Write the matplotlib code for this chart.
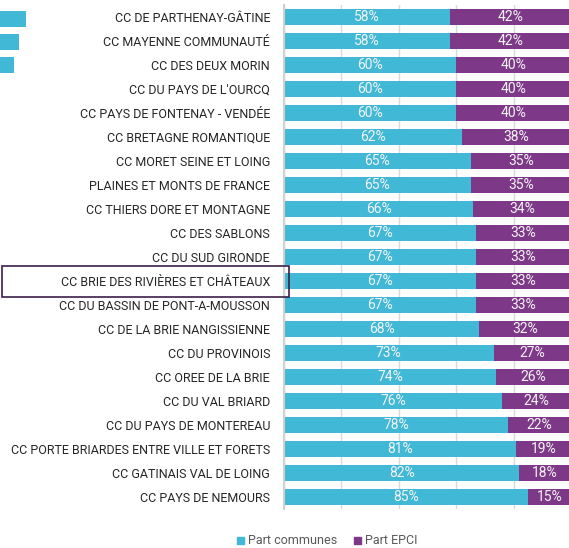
import matplotlib.pyplot as plt
from matplotlib.patches import Rectangle

plt.rcParams['font.family'] = ['Roboto', 'DejaVu Sans']

epci = [
    "CC DE PARTHENAY-GÂTINE",
    "CC MAYENNE COMMUNAUTÉ",
    "CC DES DEUX MORIN",
    "CC DU PAYS DE L'OURCQ",
    "CC PAYS DE FONTENAY - VENDÉE",
    "CC BRETAGNE ROMANTIQUE",
    "CC MORET SEINE ET LOING",
    "PLAINES ET MONTS DE FRANCE",
    "CC THIERS DORE ET MONTAGNE",
    "CC DES SABLONS",
    "CC DU SUD GIRONDE",
    "CC BRIE DES RIVIÈRES ET CHÂTEAUX",
    "CC DU BASSIN DE PONT-A-MOUSSON",
    "CC DE LA BRIE NANGISSIENNE",
    "CC DU PROVINOIS",
    "CC OREE DE LA BRIE",
    "CC DU VAL BRIARD",
    "CC DU PAYS DE MONTEREAU",
    "CC PORTE BRIARDES ENTRE VILLE ET FORETS",
    "CC GATINAIS VAL DE LOING",
    "CC PAYS DE NEMOURS",
]
part_communes = [58, 58, 60, 60, 60, 62, 65, 65, 66, 67, 67, 67, 67, 68, 73, 74, 76, 78, 81, 82, 85]
part_epci = [42, 42, 40, 40, 40, 38, 35, 35, 34, 33, 33, 33, 33, 32, 27, 26, 24, 22, 19, 18, 15]
# petites barres coupées à gauche (reste d'un autre graphique)
reste = [26, 19, 14]

cyan = '#41B8D5'
violet = '#7E3888'

W, H = 569, 548
fig = plt.figure(figsize=(W / 100, H / 100), dpi=100)

ax = fig.add_axes([284 / W, (H - 509) / H, 287 / W, 504 / H])
y = list(range(len(epci)))
ax.barh(y, part_communes, height=0.67, color=cyan)
ax.barh(y, part_epci, left=part_communes, height=0.67, color=violet)
for i in y:
    c, e = part_communes[i], part_epci[i]
    ax.text(c / 2, i, f"{c}%", ha='center', va='center', color='#f4f4f4', fontsize=10)
    ax.text(c + e / 2, i, f"{e}%", ha='center', va='center', color='#f4f4f4', fontsize=10)

ax.set_xlim(0, 100)
ax.set_ylim(len(epci) - 0.5, -0.5)
ax.set_xticks(range(0, 101, 20))
ax.xaxis.grid(True, color='#d9d9d9', linewidth=1)
ax.set_axisbelow(True)
ax.tick_params(axis='x', length=0, labelbottom=False)
ax.tick_params(axis='y', length=0, pad=10)
ax.set_yticks(y)
ax.set_yticklabels(epci, fontsize=9, color='#262626')
for s in ['top', 'right', 'bottom']:
    ax.spines[s].set_visible(False)
ax.spines['left'].set_color('#d0d0d0')
ax.spines['left'].set_linewidth(1.5)

# cadre autour de l'EPCI mis en avant
fig.patches.append(Rectangle((2 / W, (H - 297) / H), 287 / W, 31 / H,
                             transform=fig.transFigure, fill=False,
                             edgecolor='#3b1f47', linewidth=1.2))

ax2 = fig.add_axes([0, (H - 77) / H, 100 / W, 70 / H])
ax2.barh(range(len(reste)), reste, height=0.68, color=cyan)
ax2.set_xlim(0, 100)
ax2.set_ylim(len(reste) - 0.5, -0.5)
ax2.axis('off')

fig.patches.append(Rectangle((237 / W, (H - 544) / H), 7 / W, 7 / H,
                             transform=fig.transFigure, color=cyan))
fig.text(248 / W, (H - 540) / H, "Part communes", fontsize=9, color='#595959', va='center')
fig.patches.append(Rectangle((354 / W, (H - 544) / H), 7 / W, 7 / H,
                             transform=fig.transFigure, color=violet))
fig.text(365 / W, (H - 540) / H, "Part EPCI", fontsize=9, color='#595959', va='center')

fig.savefig('out.png', dpi=100)
